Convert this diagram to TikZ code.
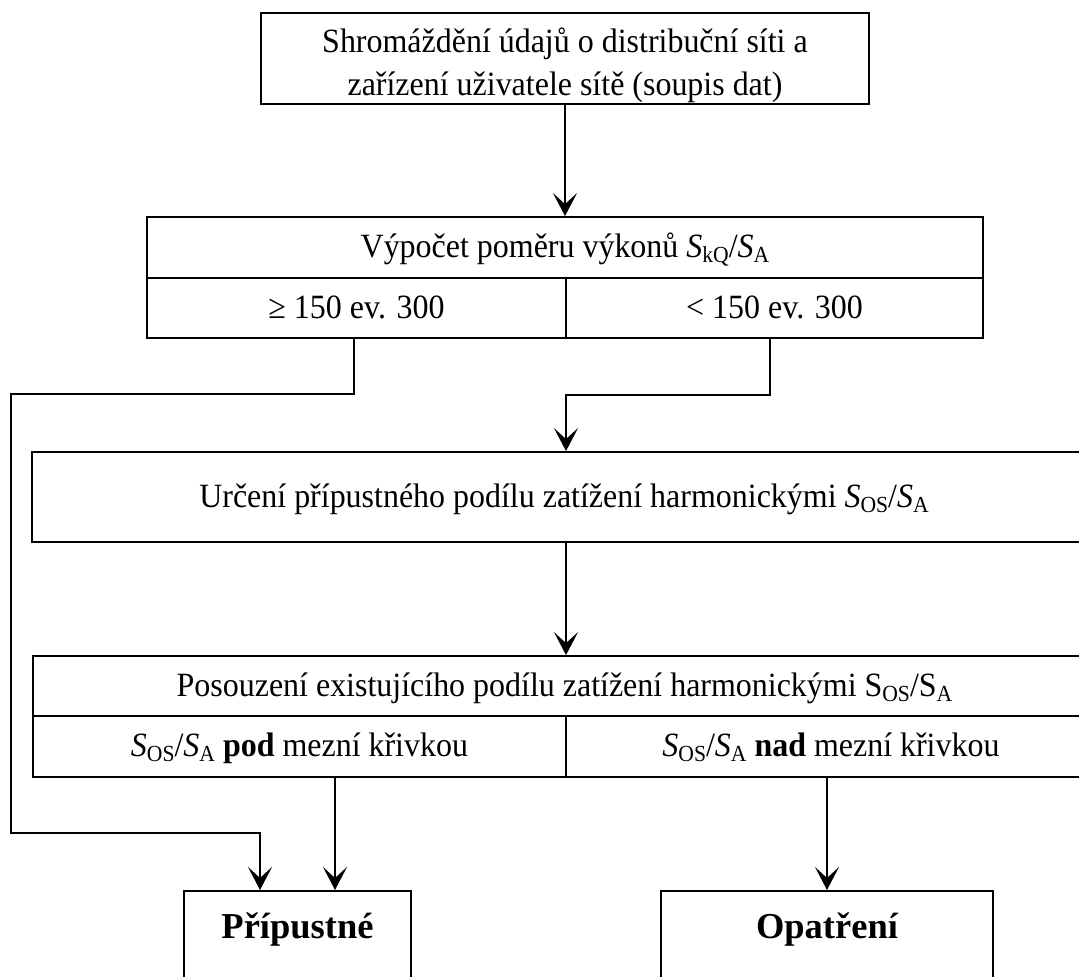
\documentclass[tikz,border=0pt]{standalone}
\usepackage{fontspec}
\setmainfont{Liberation Serif}[FakeStretch=0.94]
\newfontfamily\labelfont{Liberation Serif}
\usetikzlibrary{arrows.meta,calc}
\newcommand\subx[1]{\raisebox{-5pt}{\fontsize{23}{23}\selectfont #1}}
\begin{document}
\begin{tikzpicture}[x=1pt,y=-1pt,
  box/.style={draw, line width=1.8pt, inner sep=0pt, font=\fontsize{34}{43}\selectfont},
  cell/.style={box, text height=21pt, text depth=1pt},
  fin/.style={draw, line width=1.8pt, anchor=north, inner xsep=0pt, inner ysep=23pt,
              text height=25pt, text depth=60pt, font=\labelfont\fontsize{36.5}{44}\selectfont\bfseries},
  txt/.style={anchor=base, inner sep=0pt, font=\fontsize{34}{43}\selectfont},
  arr/.style={line width=1.4pt, -{Stealth[length=23pt,width=24pt,inset=11pt]}}]
\useasboundingbox (0,0) rectangle (1079,977);
\clip (0,0) rectangle (1079,977);

% top box
\node[box, minimum width=608pt, minimum height=91pt] (top) at (565,58.5) {};
\node[txt] (t1) at (565,52) {Shromáždění údajů o distribuční síti a};
\node[txt] (t2) at (565,95) {zařízení uživatele sítě (soupis dat)};

% box 2
\node[cell, minimum width=836pt, minimum height=61pt] (b2) at (565,247.5)
  {Výpočet poměru výkonů \textit{S}\subx{kQ}/\textit{S}\subx{A}};
\node[cell, minimum width=419pt, minimum height=60pt] (b2l) at (356.5,308) {≥ 150 ev. 300};
\node[cell, minimum width=417pt, minimum height=60pt] (b2r) at (774.5,308) {< 150 ev. 300};

% box 3
\node[cell, minimum width=1064pt, minimum height=90pt] (b3) at (564,497)
  {Určení přípustného podílu zatížení harmonickými \textit{S}\subx{OS}/\textit{S}\subx{A}};

% box 4
\node[cell, minimum width=1063pt, minimum height=60pt] (b4) at (564.5,686)
  {Posouzení existujícího podílu zatížení harmonickými S\subx{OS}/S\subx{A}};
\node[cell, minimum width=533pt, minimum height=61pt] (b4l) at (299.5,746.5)
  {\textit{S}\subx{OS}/\textit{S}\subx{A} \textbf{pod} mezní křivkou};
\node[cell, minimum width=530pt, minimum height=61pt] (b4r) at (831,746.5)
  {\textit{S}\subx{OS}/\textit{S}\subx{A} \textbf{nad} mezní křivkou};

% final boxes
\node[fin, minimum width=227pt] (pr) at (297.5,890) {Přípustné};
\node[fin, minimum width=332pt] (op) at (827,890) {Opatření};

% helper coordinates
\coordinate (pin1) at ($(pr.north)+(-37.5,0)$);
\coordinate (pin2) at ($(pr.north)+(37.5,0)$);
\coordinate (lc1) at (11,394);
\coordinate (lc2) at (11,833);
\coordinate (s1) at ($(b2l.south)+(-2.5,0)$);
\coordinate (s2) at ($(b2r.south)+(-4.5,0)$);
\coordinate (m3) at ($(b3.north)+(2,0)$);

% connectors
\draw[arr] (top.south) -- (b2.north);
\draw[arr] (s1) |- (lc1) -- (lc2) -| (pin1);
\draw[arr] (s2) -- ++(0,56) -| (m3);
\draw[arr] (b3.south -| m3) -- (b4.north -| m3);
\draw[arr] (b4l.south -| pin2) -- (pin2);
\draw[arr] (b4r.south -| op.north) -- (op.north);
\end{tikzpicture}
\end{document}
